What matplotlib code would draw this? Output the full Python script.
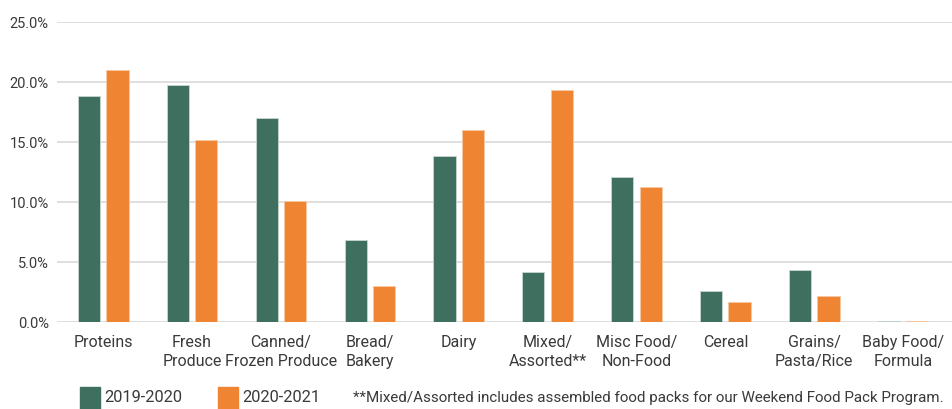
import matplotlib
matplotlib.use("Agg")
import matplotlib.pyplot as plt
from matplotlib.patches import Rectangle
import numpy as np

categories = ["Proteins", "Fresh\nProduce", "Canned/\nFrozen Produce", "Bread/\nBakery", "Dairy",
              "Mixed/\nAssorted**", "Misc Food/\nNon-Food", "Cereal", "Grains/\nPasta/Rice", "Baby Food/\nFormula"]
s2019 = [18.9, 19.8, 17.0, 6.9, 13.9, 4.2, 12.1, 2.6, 4.4, 0.1]
s2020 = [21.0, 15.2, 10.1, 3.0, 16.0, 19.4, 11.3, 1.7, 2.2, 0.1]
yticks = [0, 5, 10, 15, 20, 25]
legend_labels = ["2019-2020", "2020-2021"]
footnote = "**Mixed/Assorted includes assembled food packs for our Weekend Food Pack Program."

green = "#3f6f5f"
orange = "#ef8433"
txt = "#3a3a3a"

plt.rcParams['font.family'] = ['Roboto', 'DejaVu Sans']

fig = plt.figure(figsize=(9.52, 4.09), dpi=100)
ax = fig.add_axes([57/952, 1-322.3/409, (952-57)/952, (322.3-22.3)/409])

x = np.arange(len(categories))
w = 0.25
off = 0.16
ax.bar(x - off, s2019, w, color=green, edgecolor="#c9d6d1", linewidth=0.6, zorder=3)
ax.bar(x + off, s2020, w, color=orange, edgecolor="#f7c8a2", linewidth=0.6, zorder=3)

ax.set_xlim(-0.52, 9.55)
ax.set_ylim(0, 25)
ax.set_yticks(yticks)
ax.set_yticklabels([f"{v:.1f}%" for v in yticks], fontsize=10.5, color=txt)
ax.yaxis.grid(True, color="#d9d9d9", linewidth=1.2, zorder=0)
ax.set_xticks(x)
ax.set_xticklabels(categories, fontsize=11.5, color=txt, linespacing=1.35)
ax.tick_params(axis='both', length=0)
ax.tick_params(axis='x', pad=9)
ax.tick_params(axis='y', pad=6)
for sp in ax.spines.values():
    sp.set_visible(False)

# legend (manual)
def fx(px):
    return px / 952
def fy(py):
    return 1 - py / 409
fig.patches.append(Rectangle((fx(80), fy(409)), 20/952, 22/409, transform=fig.transFigure, color=green))
fig.text(fx(104), fy(398), legend_labels[0], fontsize=11.8, color=txt, va='center')
fig.patches.append(Rectangle((fx(218), fy(409)), 20/952, 22/409, transform=fig.transFigure, color=orange))
fig.text(fx(242), fy(398), legend_labels[1], fontsize=11.8, color=txt, va='center')
fig.text(fx(944), fy(398), footnote, fontsize=10.9, color=txt, va='center', ha='right')

fig.savefig("out.png", dpi=100)
